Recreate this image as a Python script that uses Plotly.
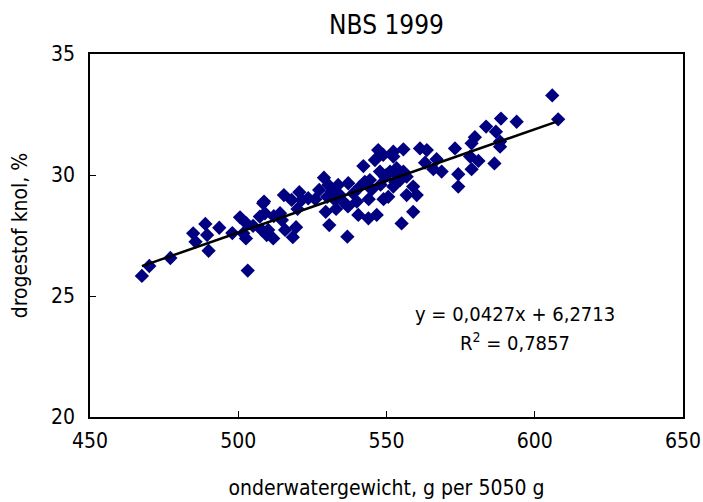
import plotly.graph_objects as go

title_text = "NBS 1999"
x_title = "onderwatergewicht, g per 5050 g"
y_title = "drogestof knol, %"

onderwatergewicht = [
    467.5, 470.0, 477.1, 484.8, 485.6, 488.9, 489.5, 490.0, 493.6, 503.2,
    500.6, 502.8, 502.6, 501.7, 507.3, 508.4, 509.0, 507.9, 509.6, 508.7,
    510.1, 511.8, 514.1, 514.7, 515.4, 515.8, 518.0, 518.4, 519.5, 520.6,
    521.4, 523.6, 527.3, 528.9, 529.5, 530.4, 530.7, 531.5, 532.6, 533.7,
    534.3, 535.4, 536.8, 537.1, 538.8, 540.0, 540.5, 541.1, 542.2, 542.7,
    543.9, 544.4, 546.1, 546.7, 547.2, 547.8, 548.9, 549.5, 550.6, 551.2,
    552.3, 552.9, 605.9, 607.9, 588.6, 593.9, 583.6, 586.9, 579.8, 588.3,
    578.7, 588.3, 573.1, 578.2, 581.0, 586.4, 578.7, 574.2, 574.2, 566.9,
    565.8, 568.6, 563.0, 561.3, 563.6, 555.7, 552.3, 553.4, 555.7, 556.8,
    554.6, 552.3, 559.0, 560.2, 556.8, 559.0, 555.1,
    545.0, 548.0, 550.0, 553.0, 555.0, 549.0, 544.0, 537.0, 533.0, 526.0,
    520.0, 512.0, 505.0, 498.0, 530.0,
]
drogestof = [
    25.83, 26.24, 26.57, 27.59, 27.24, 27.98, 27.52, 26.87, 27.82, 26.05,
    28.25, 28.00, 27.38, 27.59, 28.28, 28.83, 28.42, 27.73, 27.52, 28.90,
    27.73, 27.38, 28.42, 28.14, 29.17, 27.73, 28.97, 27.43, 27.84, 29.29,
    28.97, 29.04, 29.38, 29.89, 28.48, 29.59, 27.93, 29.31, 28.97, 29.59,
    29.17, 28.90, 27.45, 29.66, 29.24, 28.90, 28.35, 29.52, 30.37, 29.72,
    28.21, 29.79, 30.62, 28.35, 31.03, 30.14, 30.83, 29.93, 29.10, 30.14,
    30.76, 30.07, 33.29, 32.30, 32.33, 32.20, 32.00, 31.79, 31.56, 31.38,
    31.31, 31.17, 31.10, 30.76, 30.58, 30.48, 30.24, 30.03, 29.52, 30.65,
    30.24, 30.14, 30.51, 31.10, 31.03, 31.06, 30.96, 30.28, 30.14, 29.93,
    29.79, 29.52, 29.52, 29.17, 29.17, 28.48, 28.00,
    29.40, 29.60, 30.00, 29.70, 29.90, 29.00, 29.00, 28.70, 28.60, 29.00,
    28.60, 28.30, 27.90, 27.60, 29.10,
]

slope = 0.0427
intercept = 6.2713
r_squared = "0,7857"

x_ticks = [450, 500, 550, 600, 650]
y_ticks = [20, 25, 30, 35]

trend_x = [min(onderwatergewicht), max(onderwatergewicht)]
trend_y = [slope * v + intercept for v in trend_x]

font_family = "DejaVu Sans Condensed, Liberation Sans Narrow, sans-serif"

fig = go.Figure()
fig.add_trace(go.Scatter(
    x=onderwatergewicht, y=drogestof, mode="markers",
    marker=dict(symbol="diamond", size=11, color="#000080",
                line=dict(width=0)),
    showlegend=False,
))
fig.add_trace(go.Scatter(
    x=trend_x, y=trend_y, mode="lines",
    line=dict(color="black", width=2.5),
    showlegend=False,
))

fig.update_layout(
    width=703, height=502,
    margin=dict(l=90, r=20, t=54, b=85),
    paper_bgcolor="white", plot_bgcolor="white",
    font=dict(family=font_family, color="black", size=20),
    title=dict(text=title_text, x=0.5, xref="paper", y=0.95, yanchor="middle",
               font=dict(size=26, family=font_family)),
    showlegend=False,
)
fig.update_xaxes(
    range=[450, 650], tickvals=x_ticks, ticks="inside", ticklen=6,
    tickcolor="black", showgrid=False, zeroline=False,
    showline=True, linecolor="black", linewidth=1.5, mirror=True,
    title=dict(text=x_title, font=dict(size=21), standoff=28),
    tickfont=dict(size=21), ticklabelstandoff=4, automargin=False,
)
fig.update_yaxes(
    range=[20, 35], tickvals=y_ticks, ticks="inside", ticklen=6,
    tickcolor="black", showgrid=False, zeroline=False,
    showline=True, linecolor="black", linewidth=1.5, mirror=True,
    title=dict(text=y_title, font=dict(size=21), standoff=18),
    tickfont=dict(size=21), ticklabelstandoff=9, automargin=False,
)

fig.add_annotation(
    x=593.3, y=24.26, xref="x", yref="y", showarrow=False,
    text=f"y = {str(slope).replace('.', ',')}x + {str(intercept).replace('.', ',')}",
    font=dict(size=20), xanchor="center", yanchor="middle",
)
fig.add_annotation(
    x=593.3, y=23.1, xref="x", yref="y", showarrow=False,
    text=f"R<sup>2</sup> = {r_squared}",
    font=dict(size=20), xanchor="center", yanchor="middle",
)

fig.write_html("out.html")
